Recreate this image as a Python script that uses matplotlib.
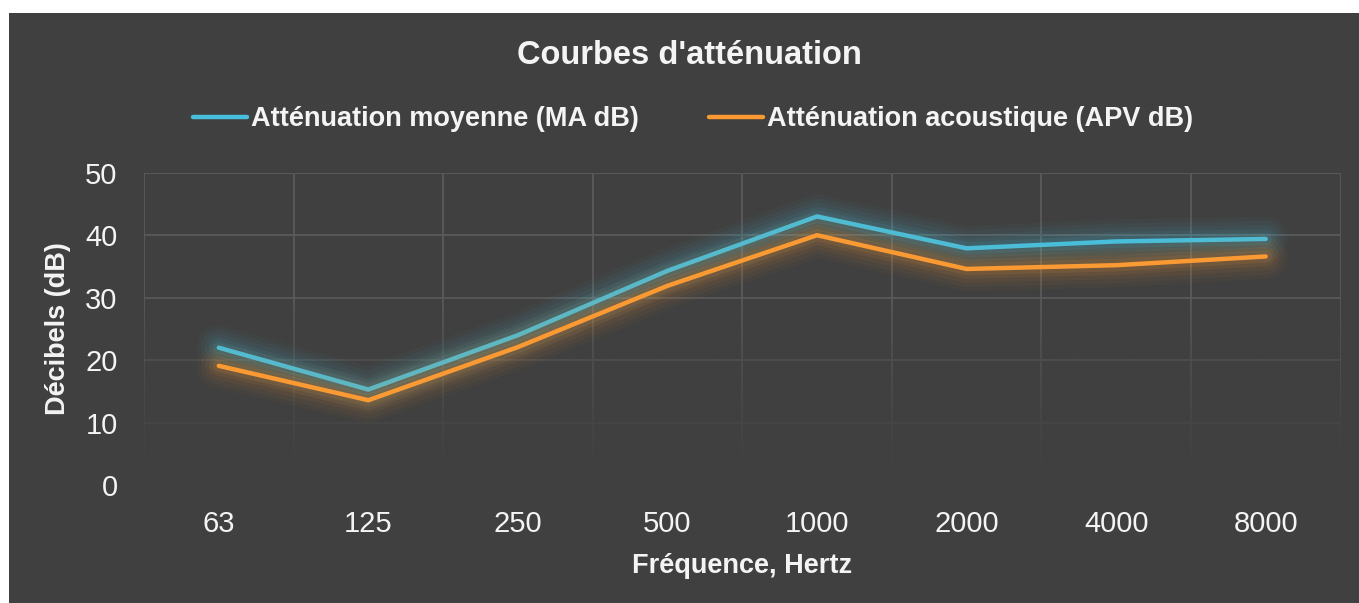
import numpy as np
import matplotlib
matplotlib.use("Agg")
import matplotlib.pyplot as plt
import matplotlib.patheffects as pe
from matplotlib.patches import Rectangle

# --- données ---
frequences = ["63", "125", "250", "500", "1000", "2000", "4000", "8000"]
attenuation_moyenne = [22.0, 15.3, 24.0, 34.3, 43.0, 37.9, 39.0, 39.4]
attenuation_apv = [19.1, 13.6, 22.1, 31.9, 40.0, 34.6, 35.2, 36.6]
series_labels = ["Atténuation moyenne (MA dB)", "Atténuation acoustique (APV dB)"]
y_ticks = [0, 10, 20, 30, 40, 50]

BG = "#404040"
GRID = "#5a5a5a"
TXT = "#f4f4f4"
BLUE = "#47bedb"
ORANGE = "#fb9a33"

plt.rcParams["font.family"] = ["Liberation Sans", "DejaVu Sans"]

W, H = 1359, 603
fig = plt.figure(figsize=(W / 100, H / 100), dpi=100, facecolor="white")

# panneau sombre
fig.add_artist(Rectangle((9 / W, 0), 1 - 9 / W, 1 - 13 / H,
                         transform=fig.transFigure, facecolor=BG,
                         edgecolor="none", zorder=-5))

ax = fig.add_axes([144 / W, 1 - 485.2 / H, (1340.5 - 144) / W, (485.2 - 172.7) / H])
ax.set_facecolor(BG)
ax.patch.set_alpha(0)

x = np.arange(len(frequences))
ax.set_xlim(-0.5, len(frequences) - 0.5)
ax.set_ylim(0, 50)

# grille
for v in y_ticks:
    ax.axhline(v, color=GRID, lw=1.3, zorder=1)
for b in np.arange(-0.5, len(frequences) + 0.5):
    ax.axvline(b, color=GRID, lw=1.3, zorder=1)

# fondu de la grille vers le bas
grad = np.zeros((100, 2, 4))
grad[..., :3] = matplotlib.colors.to_rgb(BG)
alpha = np.clip((30 - np.linspace(0, 50, 100)) / 28, 0, 1) ** 0.8
grad[..., 3] = alpha[:, None]
ax.imshow(grad, extent=[-0.5, len(frequences) - 0.5, 0, 50], origin="lower",
          aspect="auto", zorder=2, interpolation="bilinear")

# courbes avec halo
def glow(color):
    effects = []
    for w, a in [(32, 0.035), (26, 0.045), (20, 0.06), (14, 0.08), (9, 0.1)]:
        effects.append(pe.Stroke(linewidth=w, foreground=color, alpha=a))
    effects.append(pe.Normal())
    return effects

ax.plot(x, attenuation_moyenne, color=BLUE, lw=3.2, solid_capstyle="round",
        solid_joinstyle="round", zorder=4, path_effects=glow(BLUE))
ax.plot(x, attenuation_apv, color=ORANGE, lw=3.2, solid_capstyle="round",
        solid_joinstyle="round", zorder=5, path_effects=glow(ORANGE))

for s in ax.spines.values():
    s.set_visible(False)

ax.set_xticks(x)
ax.set_xticklabels(frequences)
ax.set_yticks(y_ticks)
ax.tick_params(axis="both", length=0, labelsize=21, colors=TXT)
ax.tick_params(axis="y", pad=19)
ax.tick_params(axis="x", pad=18)

ax.set_xlabel("Fréquence, Hertz", fontsize=19.5, fontweight="bold", color=TXT, labelpad=11)
ax.set_ylabel("Décibels (dB)", fontsize=19.5, fontweight="bold", color=TXT, labelpad=10)

fig.text(689 / W, 1 - 56 / H, "Courbes d'atténuation", ha="center", va="center",
         fontsize=23.5, fontweight="bold", color=TXT)

h1 = plt.Line2D([], [], color=BLUE, lw=3.2, solid_capstyle="round")
h2 = plt.Line2D([], [], color=ORANGE, lw=3.2, solid_capstyle="round")
leg = fig.legend([h1, h2], series_labels, loc="center", bbox_to_anchor=(693 / W, 1 - 119 / H),
                 ncol=2, frameon=False, handlelength=2.0, handletextpad=0.15,
                 columnspacing=2.6, prop={"size": 19.5, "weight": "bold"})
for t in leg.get_texts():
    t.set_color(TXT)

fig.savefig("out.png", dpi=100, facecolor=fig.get_facecolor())
